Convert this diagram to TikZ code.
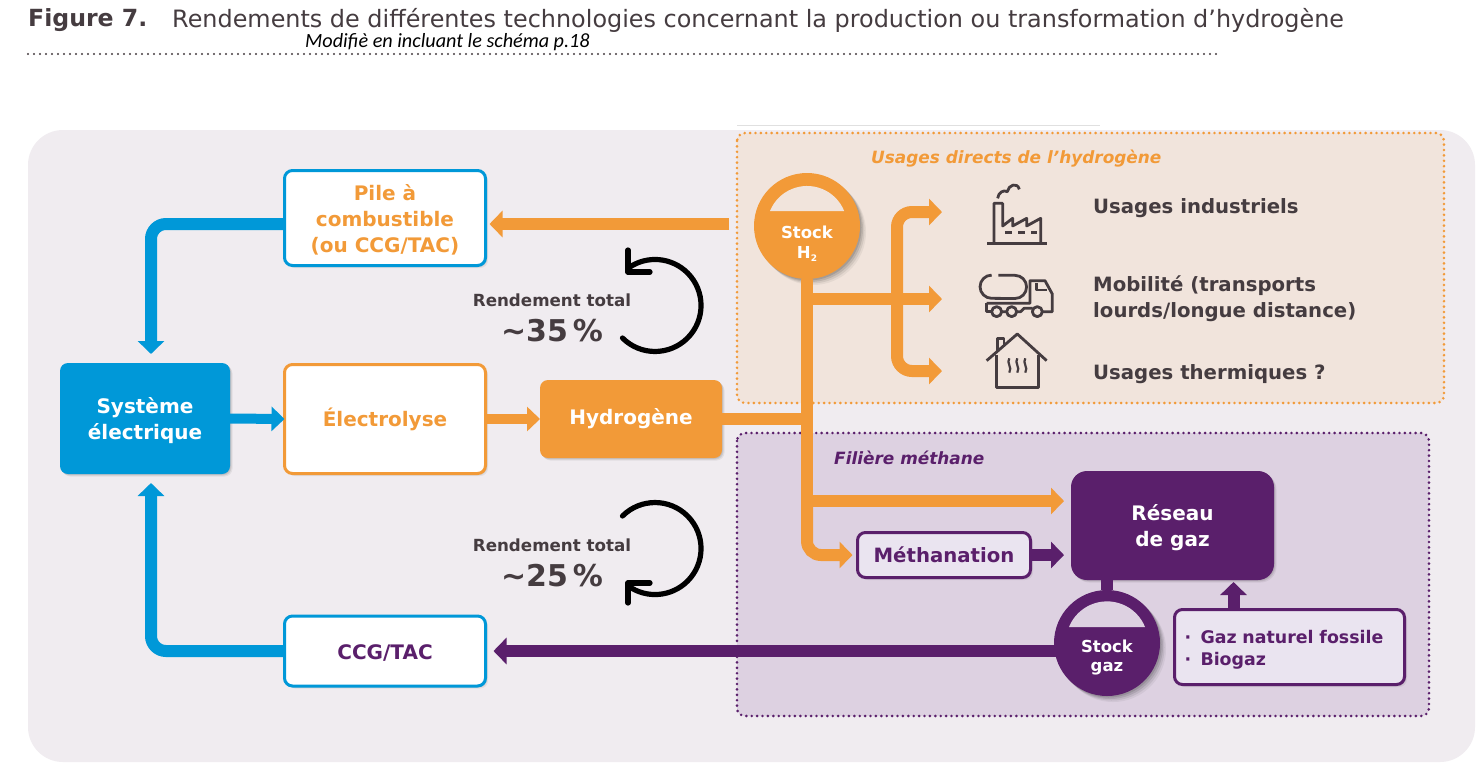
\documentclass[tikz,border=0pt]{standalone}
\usepackage{fontspec}
\setmainfont{DejaVu Sans}
\newfontfamily\notefont{Carlito}
\usetikzlibrary{arrows.meta,shadows,calc}
\definecolor{bgc}{HTML}{F0ECF0}
\definecolor{orpanel}{HTML}{F1E4DC}
\definecolor{pupanel}{HTML}{DDD1E1}
\definecolor{orc}{HTML}{F29A38}
\definecolor{blc}{HTML}{0098D8}
\definecolor{puc}{HTML}{5A1F6B}
\definecolor{txc}{HTML}{453C40}
\definecolor{lilac}{HTML}{EAE4F0}
\newcommand{\fs}[2]{\fontsize{#1}{#2}\selectfont\bfseries}
\newcommand{\lift}[1]{\rule{0pt}{#1pt}}
\tikzset{
  softsh/.style={general shadow={shadow xshift=2.5pt,shadow yshift=-2.5pt,fill=black,opacity=.06},
                 general shadow={shadow xshift=1.5pt,shadow yshift=-1.5pt,fill=black,opacity=.08},
                 general shadow={shadow xshift=.7pt,shadow yshift=-.7pt,fill=black,opacity=.08}},
  strongsh/.style={general shadow={shadow xshift=6pt,shadow yshift=-6pt,fill=black,opacity=.05},
                 general shadow={shadow xshift=4.5pt,shadow yshift=-4.5pt,fill=black,opacity=.08},
                 general shadow={shadow xshift=3pt,shadow yshift=-3pt,fill=black,opacity=.1},
                 general shadow={shadow xshift=1.5pt,shadow yshift=-1.5pt,fill=black,opacity=.12}},
  box/.style={rectangle,rounded corners=8pt,line width=3pt,align=center,inner sep=0pt,outer sep=0pt,softsh,font=\fs{20}{26}},
  whitebox/.style={box,fill=white},
  filled/.style={box,draw=none,text=white},
  lilacbox/.style={box,fill=lilac,draw=puc,text=puc},
  tank/.style={circle,minimum size=106pt,inner sep=0pt,outer sep=0pt,strongsh},
  caption/.style={inner sep=0pt,text=white,align=center},
  lab/.style={inner sep=0pt,text=txc,align=left,anchor=west,font=\fs{19.7}{26}},
  arr/.style={line width=12pt,-{Triangle[width=26pt,length=13pt]},rounded corners=15pt},
  seg/.style={line width=12pt},
  dots/.style={line width=2.9pt,line cap=round,dash pattern=on 0pt off 5.4pt,rounded corners=8pt},
  icon/.style={draw=txc,line width=2.8pt,line join=round},
  turn/.style={draw=black,line width=5.2pt,line cap=round,line join=round},
}
\begin{document}
\begin{tikzpicture}[x=1pt,y=-1pt]
\useasboundingbox (0,0) rectangle (1479,764);
\fill[white] (0,0) rectangle (1479,764);
% title
\node[inner sep=0pt,anchor=west,text=txc] (figlab) at (28,20) {\fontsize{23.6}{28}\selectfont\bfseries Figure 7.};
\node[inner sep=0pt,anchor=west,text=txc] (figtitle) at (172,20) {\fontsize{23.9}{28}\selectfont Rendements de différentes technologies concernant la production ou transformation d’hydrogène};
\node[inner sep=0pt,anchor=west,text=black] (modnote) at (305,42) {\notefont\itshape\fontsize{20.2}{24}\selectfont Modifiè en incluant le schéma p.18};
\draw[dots,draw=txc,line width=2.2pt,dash pattern=on 0pt off 6pt] (28,54) -- (1220,54);
% backdrop
\fill[bgc,rounded corners=35pt] (28,130) rectangle (1475,762);
\fill[white] (737,125) rectangle (1100,130);
\draw[black!12,line width=.8pt] (737,125) -- (1100,125);
\fill[orpanel,rounded corners=8pt] (737,133) rectangle (1444,403);
\draw[dots,draw=orc] (737,133) rectangle (1444,403);
\fill[pupanel,rounded corners=8pt] (737,433) rectangle (1429,716);
\draw[dots,draw=puc] (737,433) rectangle (1429,716);
\node[inner sep=0pt,anchor=west,text=orc] (usagesT) at (871,158.5) {\fs{16.9}{20}\itshape Usages directs de l’hydrogène};
\node[inner sep=0pt,anchor=west,text=puc] (filiereT) at (834,458) {\fs{16.9}{20}\itshape Filière méthane};
% nodes
\node[whitebox,draw=blc,text=orc,minimum width=201pt,minimum height=95pt] (pile) at (385,218) {\lift{20}Pile à\\combustible\\(ou CCG/TAC)};
\node[filled,fill=blc,minimum width=170pt,minimum height=111pt] (sys) at (145,418.5) {\lift{20}Système\\électrique};
\node[whitebox,draw=orc,text=orc,minimum width=201pt,minimum height=109pt] (elec) at (385,419) {Électrolyse};
\node[filled,fill=orc,minimum width=182pt,minimum height=78pt] (hyd) at (631,419) {Hydrogène};
\node[whitebox,draw=blc,text=puc,minimum width=201pt,minimum height=70pt] (ccg) at (385,651) {\lift{18}CCG/TAC};
\node[filled,fill=puc,rounded corners=16pt,minimum width=203pt,minimum height=109pt] (res) at (1172.5,525.5) {\lift{20}Réseau\\de gaz};
\node[lilacbox,font=\fs{19.7}{26},minimum width=173pt,minimum height=45pt] (meth) at (944,555) {Méthanation};
\node[lilacbox,font=\fs{17.4}{22},minimum width=230pt,minimum height=75pt,text width=210pt,align=left] (gaz) at (1289.5,647) {\lift{19}\makebox[16pt][l]{·}Gaz naturel fossile\\\makebox[16pt][l]{·}Biogaz};
\node[tank,fill=orc] (stockH) at (807,226) {};
\node[tank,fill=puc] (stockG) at (1107,643) {};
\fill[orpanel] (770,211) arc[start angle=158,end angle=22,radius=40pt] -- cycle;
\fill[pupanel] (1069,627) arc[start angle=158,end angle=22,radius=41pt] -- cycle;
\node[caption,font=\fs{16.5}{20}] (stockHt) at (807,244) {Stock\\H\raisebox{-3pt}{\fontsize{9}{9}\selectfont 2}};
\node[caption,font=\fs{16.5}{19}] (stockGt) at (1107,657) {Stock\\gaz};
% coordinates
\coordinate (hsrc) at (729,224);
\coordinate (j1) at (807,299);
\coordinate (j2) at (807,501);
\coordinate (j3) at (807,419);
\coordinate (b0) at (897,299);
\coordinate (top) at (942,212);
\coordinate (mid) at (942,299);
\coordinate (low) at (942,371);
% connectors
\draw[arr,draw=orc] (hsrc) -- ([xshift=4pt,yshift=-6pt]pile.east);
\draw[arr,draw=blc] ([yshift=-6pt]pile.west) -| ([xshift=6pt,yshift=9pt]sys.north);
\draw[arr,draw=blc,line width=10pt,-{Triangle[width=24pt,length=13pt]}] (sys.east) -- (elec.west);
\draw[arr,draw=orc,line width=10pt,-{Triangle[width=24pt,length=13pt]}] (elec.east) -- (hyd.west);
\draw[seg,draw=orc] (hyd.east) -- (j3);
\draw[seg,draw=orc] (stockH.south) -- (j2);
\draw[arr,draw=orc,rounded corners=14pt] (j2) |- ([xshift=-5pt]meth.west);
\draw[arr,draw=orc] (j2) -- ([xshift=-7pt]j2 -| res.west);
\draw[arr,draw=orc] (j1) -- (mid);
\draw[arr,draw=orc] (b0) |- (top);
\draw[arr,draw=orc] (b0) |- (low);
\draw[arr,draw=puc] (meth.east) -- ([xshift=-7pt]meth.east -| res.west);
\draw[seg,draw=puc] (stockG.north) -- (stockG.north |- res.south);
\draw[arr,draw=puc] ([xshift=-56pt]gaz.north) -- ([xshift=-56pt,yshift=-2pt]gaz.north |- res.south);
\draw[arr,draw=puc] ([xshift=3pt]stockG.west |- ccg.east) -- ([xshift=8pt]ccg.east);
\draw[arr,draw=blc] (ccg.west) -| ([xshift=6pt,yshift=-9pt]sys.south);
% labels
\node[inner sep=0pt,text=txc] (r1) at (552,300) {\fs{16.7}{20}Rendement total};
\node[inner sep=0pt,text=txc] (v1) at (552,331) {\fs{30}{34}\char"007E 35\,\%};
\node[inner sep=0pt,text=txc] (r2) at (552,545) {\fs{16.7}{20}Rendement total};
\node[inner sep=0pt,text=txc] (v2) at (552,576) {\fs{30}{34}\char"007E 25\,\%};
\node[lab] (u1) at (1093,208) {Usages industriels};
\node[lab] (u2) at (1093,299) {Mobilité (transports\\lourds/longue distance)};
\node[lab] (u3) at (1093,374) {Usages thermiques ?};
% turning arrows
\draw[turn] (622.5,338) arc[start angle=-135,end angle=125,radius=46pt] -- (628,272);
\draw[turn] (628,250) -- (628,272) -- (650,272);
\draw[turn] (622.5,516) arc[start angle=135,end angle=-125,radius=46pt] -- (628,583);
\draw[turn] (628,603) -- (628,583) -- (650,583);
% icons (in the 3x grid of the crop)
\begin{scope}[shift={(730,120)},x=.3333pt,y=-.3333pt]
  % factory
  \draw[icon] (772,370) -- (950,370);
  \draw[icon] (792,370) -- (792,250) -- (818,250) -- (818,318) -- (848,295) -- (848,318) -- (890,295) -- (890,318) -- (932,295) -- (932,370);
  \draw[icon,dash pattern=on 6.6pt off 6.6pt] (825,338) -- (920,338);
  \draw[icon] (803,235) .. controls (805,218) and (820,208) .. (832,215) .. controls (835,195) and (862,185) .. (868,208);
  % truck
  \draw[icon] (805,466) -- (855,466) arc[start angle=90,end angle=-90,radius=11.6pt] -- (785,535) arc[start angle=270,end angle=90,radius=11.6pt];
  \draw[icon] (770,550) -- (770,575) -- (785,575);
  \draw[icon] (770,550) -- (900,550) -- (900,482) -- (945,482) -- (967,522) -- (967,575) -- (938,575);
  \draw[icon] (920,490) -- (920,510) -- (950,510);
  \draw[icon] (815,575) -- (830,575) (860,575) -- (872,575) -- (882,565) -- (908,565);
  \draw[icon] (800,575) circle[radius=5pt] (845,575) circle[radius=5pt] (922,575) circle[radius=5pt];
  % house
  \draw[icon] (770,722) -- (862,642) -- (950,722);
  \draw[icon] (802,696) -- (802,655) -- (822,655) -- (822,678);
  \draw[icon] (800,705) -- (800,802) -- (925,802) -- (925,705);
  \foreach \hx in {838,862,886}{
    \draw[icon,line width=2.2pt] (\hx,715) .. controls (\hx-10,728) and (\hx+10,742) .. (\hx,758);
  }
\end{scope}
\end{tikzpicture}
\end{document}
